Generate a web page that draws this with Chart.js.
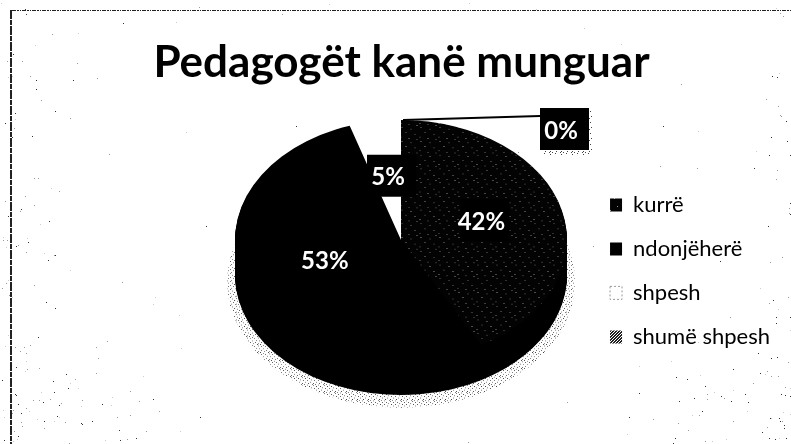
<!DOCTYPE html>
<html><head><meta charset="utf-8">
<style>html,body{margin:0;padding:0;background:#fff;overflow:hidden}canvas{display:block}</style>
<script src="https://cdn.jsdelivr.net/npm/chart.js@4"></script>
</head><body><canvas id="c" width="791" height="444"></canvas>
<script>
const chartTitle = 'Pedagogët kanë munguar';
const categories = ['kurrë', 'ndonjëherë', 'shpesh', 'shumë shpesh'];
const shares = [42, 53, 5, 0];

// Geometry of the tilted pie (a 3D look is made by squashing and extruding the library's arcs)
const FACE = {cx: 401, cy: 240, squash: 120 / 166, depth: 35};
const FONT = 'Lato, "Noto Sans", sans-serif';

function tile(size, specks, color, bg) {
  const t = document.createElement('canvas');
  t.width = t.height = size;
  const g = t.getContext('2d');
  g.fillStyle = bg; g.fillRect(0, 0, size, size);
  g.fillStyle = color;
  specks.forEach(p => g.fillRect(p[0], p[1], 1, 1));
  return g.createPattern(t, 'repeat');
}
const darkSpeck = tile(19, [[2,1],[11,3],[6,8],[15,10],[1,14],[9,16],[17,17]], '#9a9a9a', '#030303');
const fineSpeck = tile(3, [[0,0],[2,1],[1,2]], '#ffffff', '#222222');
const shadowSpeck = tile(11, [[0,0],[3,1],[7,1],[9,3],[1,4],[5,4],[3,6],[8,6],[0,8],[6,8],[2,9],[10,9],[5,10]], '#444444', '#ffffff');
const sliceFills = [darkSpeck, '#000000', '#ffffff', fineSpeck];

// deterministic paper grain, denser towards the scanned edges
function paperGrain(ctx, w, h) {
  let s = 12345;
  const next = () => (s = (s * 1664525 + 1013904223) >>> 0) / 4294967296;
  for (let i = 0; i < 5200; i++) {
    const x = next() * w, y = next() * h, keep = next(), tone = next();
    const left = Math.max(0, 1 - x / 190), right = Math.max(0, 1 - (w - x) / 180);
    const low = Math.max(0, (y - 290) / 154);
    const topLeft = Math.max(0, 1 - x / 90) * 0.3;
    const rightEdge = Math.max(0, 1 - (w - x) / 60) * 0.3;
    const d = Math.max(left * low * 0.8, right * low * 0.7, topLeft, rightEdge, 0.012);
    if (keep < d) {
      ctx.fillStyle = tone < 0.35 ? '#333' : tone < 0.7 ? '#999' : '#ccc';
      ctx.fillRect(Math.round(x), Math.round(y), 1, 1);
    }
  }
}

function faceTransform(ctx, arc, extra) {
  ctx.translate(FACE.cx, FACE.cy + (extra || 0));
  ctx.scale(1, FACE.squash);
  ctx.translate(-arc.x, -arc.y);
}

const tiltPlugin = {
  id: 'tilt',
  beforeDraw(chart) {
    const ctx = chart.ctx;
    ctx.save();
    ctx.fillStyle = '#fff';
    ctx.fillRect(0, 0, chart.width, chart.height);
    paperGrain(ctx, chart.width, chart.height);
    ctx.strokeStyle = '#222';
    ctx.lineWidth = 1;
    ctx.setLineDash([4, 1, 2, 1, 1, 1]);
    ctx.beginPath(); ctx.moveTo(12, 10.5); ctx.lineTo(chart.width, 10.5); ctx.stroke();
    ctx.lineWidth = 2;
    ctx.setLineDash([9, 1, 5, 1]);
    ctx.beginPath(); ctx.moveTo(11, 10); ctx.lineTo(11, chart.height); ctx.stroke();
    ctx.restore();
  },
  beforeDatasetsDraw(chart) {
    const ctx = chart.ctx, arcs = chart.getDatasetMeta(0).data, a = arcs[0];
    const R = a.outerRadius;
    ctx.save();
    // stippled drop shadow under the pie
    ctx.save();
    ctx.translate(FACE.cx, FACE.cy + FACE.depth + 7);
    ctx.scale(1, FACE.squash);
    ctx.fillStyle = shadowSpeck;
    ctx.beginPath(); ctx.arc(0, 0, R + 8, 0, Math.PI * 2); ctx.fill();
    ctx.restore();
    // extruded side, all in black
    for (let d = FACE.depth; d >= 1; d--) {
      ctx.save();
      faceTransform(ctx, a, d);
      arcs.forEach(el => {
        const saved = el.options;
        el.options = Object.assign({}, saved, {backgroundColor: '#000000'});
        el.draw(ctx);
        el.options = saved;
      });
      ctx.restore();
    }
    faceTransform(ctx, a, 0);
  },
  afterDatasetsDraw(chart) {
    const ctx = chart.ctx, arcs = chart.getDatasetMeta(0).data;
    ctx.restore();
    ctx.save();
    ctx.font = 'bold 24px ' + FONT;
    ctx.textAlign = 'center';
    ctx.textBaseline = 'middle';
    arcs.forEach((el, i) => {
      const mid = (el.startAngle + el.endAngle) / 2 + Math.PI / 2;
      const R = el.outerRadius;
      const zero = shares[i] === 0;
      const frac = zero ? 1 : 0.5;
      let x = FACE.cx + Math.sin(mid) * R * frac;
      let y = FACE.cy - Math.cos(mid) * R * FACE.squash * frac - (zero ? 0 : 3);
      if (zero) {
        const lx = x + 2, ly = y;
        x = lx + 158; y = ly + 11;
        ctx.strokeStyle = '#000'; ctx.lineWidth = 2;
        ctx.beginPath(); ctx.moveTo(lx, ly); ctx.lineTo(x - 21, y - 15); ctx.stroke();
        ctx.fillStyle = shadowSpeck;
        ctx.fillRect(x - 19, y - 20, 50, 44);
      }
      ctx.fillStyle = '#000';
      ctx.fillRect(x - 21, y - 23, 49, 42);
      ctx.fillStyle = '#fff';
      ctx.fillText(shares[i] + '%', x, y);
    });
    ctx.restore();
  }
};

new Chart(document.getElementById('c'), {
  type: 'pie',
  data: {
    labels: categories,
    datasets: [{
      data: shares,
      backgroundColor: sliceFills,
      borderWidth: 0,
      radius: 166
    }]
  },
  options: {
    responsive: false,
    animation: false,
    layout: {padding: {left: 23, right: 11}},
    plugins: {
      tooltip: {enabled: false},
      title: {
        display: true,
        text: chartTitle,
        color: '#000',
        font: {family: FONT, size: 44, weight: 'bold'},
        padding: {top: 36, bottom: 9}
      },
      legend: {
        position: 'right',
        fullSize: false,
        labels: {
          color: '#000',
          font: {family: FONT, size: 22},
          boxWidth: 12,
          boxHeight: 13,
          padding: 22,
          generateLabels(chart) {
            const items = Chart.overrides.pie.plugins.legend.labels.generateLabels(chart);
            items.forEach(it => {
              it.lineWidth = it.index === 2 ? 1 : 0;
              it.strokeStyle = '#999';
              if (it.index === 2) it.lineDash = [2, 2];
            });
            return items;
          }
        }
      }
    }
  },
  plugins: [tiltPlugin]
});
</script></body></html>
